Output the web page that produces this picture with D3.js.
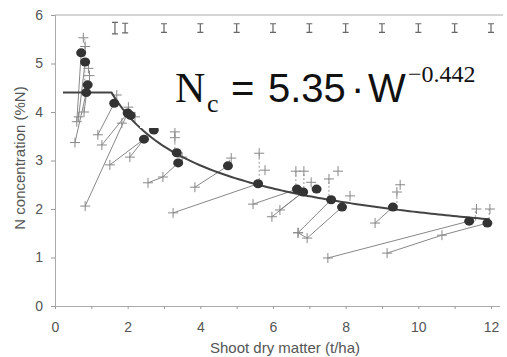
<!DOCTYPE html>
<html>
<head>
<meta charset="utf-8">
<script src="https://cdn.jsdelivr.net/npm/d3@7"></script>
<style>
  body { margin: 0; background: #fff; }
  svg { display: block; }
</style>
</head>
<body>
<div id="chart"></div>
<script>
// critical points (filled dots)
const dots = [[0.72,5.22],[0.83,5.03],[0.9,4.56],[0.86,4.4],[1.63,4.18],[2.0,3.98],[2.08,3.93],
  [2.72,3.63],[2.45,3.44],[3.35,3.16],[3.39,2.95],[4.76,2.89],[5.59,2.52],[6.66,2.41],[6.83,2.35],
  [7.2,2.41],[7.6,2.19],[7.9,2.04],[9.3,2.04],[11.4,1.75],[11.9,1.71]];

// N-limited treatments, each path ends at its critical point
const limitedPaths = [
  [[0.55,3.37],[0.86,4.4]],
  [[0.6,3.8],[0.72,5.22]],
  [[0.65,3.9],[0.83,5.03]],
  [[0.8,4.0],[0.9,4.56]],
  [[0.83,2.06],[2.0,3.98]],
  [[1.18,3.53],[1.63,4.18]],
  [[1.29,3.32],[2.0,3.98]],
  [[1.51,2.91],[2.45,3.44]],
  [[2.06,3.07],[2.45,3.44]],
  [[2.56,2.54],[2.97,2.66],[3.39,2.95]],
  [[3.25,1.92],[5.59,2.52]],
  [[3.85,2.45],[4.76,2.89]],
  [[5.45,2.1],[6.66,2.41]],
  [[5.97,1.84],[6.83,2.35]],
  [[6.19,1.98],[6.83,2.35]],
  [[6.69,1.51],[7.6,2.19]],
  [[6.94,1.40],[7.9,2.04]],
  [[6.69,1.51],[6.94,1.40]],
  [[8.81,1.71],[9.3,2.04]],
  [[7.51,0.99],[11.4,1.75]],
  [[9.14,1.09],[10.65,1.46],[11.9,1.71]]
];

// non-limiting treatments (crosses above the dots)
const upperPts = [[0.78,5.53],[0.83,5.35],[0.92,4.9],[0.95,4.75],[1.7,4.35],[2.02,4.1],[2.2,3.9],
  [1.84,3.77],[3.3,3.59],[3.3,3.47],[3.5,3.07],[4.85,3.05],[5.62,3.15],[5.78,2.8],[6.63,2.78],
  [6.85,2.78],[7.05,2.55],[7.54,2.62],[7.79,2.78],[8.12,2.27],[9.41,2.35],[9.5,2.5],[11.6,2.0],[11.97,2.0]];

// dashed verticals: x, low y, high y
const dashLines = [[0.82,4.4,5.5],[2.02,3.98,4.1],[3.3,3.16,3.59],[4.8,2.89,3.05],[5.62,2.52,3.15],
  [6.63,2.41,2.78],[6.85,2.35,2.78],[7.54,2.19,2.62],[9.41,2.04,2.35],[11.57,1.75,2.0],[11.95,1.71,2.0]];

// error bars at top
const errX = [1.65,1.93,3,4,5,6,7,8,9,10,11,12];
const errHalf = [0.12,0.1,0.09,0.09,0.09,0.09,0.09,0.09,0.09,0.09,0.09,0.09];
const errY = 5.73;

const xTicks = [0,1,2,3,4,5,6,7,8,9,10,11,12];
const yTicks = [0,1,2,3,4,5,6];

// critical N dilution curve
const curveA = 5.35, curveB = -0.442, flatN = 4.4, flatStart = 0.22;

const width = 507, height = 357;
const margin = {left: 55, top: 15, right: 16, bottom: 51};

const svg = d3.select("#chart").append("svg")
  .attr("width", width).attr("height", height)
  .style("font-family", "'Liberation Sans', Arial, sans-serif");

const x = d3.scaleLinear().domain([0, 12]).range([margin.left, 491]);
const y = d3.scaleLinear().domain([0, 6]).range([height - margin.bottom, margin.top]);

// frame top line
svg.append("line")
  .attr("x1", margin.left).attr("x2", 503)
  .attr("y1", y(6)).attr("y2", y(6))
  .attr("stroke", "#aaa").attr("stroke-width", 1);

// axes
const xAxis = svg.append("g")
  .attr("transform", `translate(0,${y(0)})`)
  .call(d3.axisBottom(x).tickValues(xTicks).tickSize(3).tickPadding(13)
    .tickFormat(d => d % 2 === 0 ? d : ""));
xAxis.select(".domain").attr("d", `M${margin.left},0.5H500`);

const yAxis = svg.append("g")
  .attr("transform", `translate(${margin.left},0)`)
  .call(d3.axisLeft(y).tickValues(yTicks).tickSize(4).tickPadding(8).tickFormat(d3.format("d")));

svg.selectAll(".domain").attr("stroke", "#aaa");
svg.selectAll(".tick line").attr("stroke", "#999");
svg.selectAll(".tick text").attr("fill", "#555").style("font-size", "14px");

// axis titles
svg.append("text")
  .attr("x", 285).attr("y", 353)
  .attr("text-anchor", "middle")
  .attr("fill", "#555").style("font-size", "15px")
  .text("Shoot dry matter (t/ha)");

svg.append("text")
  .attr("transform", `translate(25,158) rotate(-90)`)
  .attr("text-anchor", "middle")
  .attr("fill", "#555").style("font-size", "15px")
  .text("N concentration (%N)");

const line = d3.line().x(d => x(d[0])).y(d => y(d[1]));

// limited paths
svg.append("g").selectAll("path")
  .data(limitedPaths).join("path")
  .attr("d", line)
  .attr("fill", "none").attr("stroke", "#888").attr("stroke-width", 1);

// dashed verticals
svg.append("g").selectAll("line")
  .data(dashLines).join("line")
  .attr("x1", d => x(d[0])).attr("x2", d => x(d[0]))
  .attr("y1", d => y(d[1])).attr("y2", d => y(d[2]))
  .attr("stroke", "#999").attr("stroke-width", 1).attr("stroke-dasharray", "2,2");

// crosses
const crossPts = limitedPaths.flatMap(p => p.slice(0, -1)).concat(upperPts);
const arm = 5;
svg.append("g").selectAll("path")
  .data(crossPts).join("path")
  .attr("d", d => `M${x(d[0]) - arm},${y(d[1])}H${x(d[0]) + arm}M${x(d[0])},${y(d[1]) - arm}V${y(d[1]) + arm}`)
  .attr("fill", "none").attr("stroke", "#888").attr("stroke-width", 1);

// curve
const wBreak = Math.pow(flatN / curveA, 1 / curveB);
const curvePts = [[flatStart, flatN]].concat(
  d3.range(wBreak, 12.001, 0.1).map(w => [w, curveA * Math.pow(w, curveB)]));
svg.append("path")
  .attr("d", line(curvePts))
  .attr("fill", "none").attr("stroke", "#444").attr("stroke-width", 2);

// dots
svg.append("g").selectAll("ellipse")
  .data(dots).join("ellipse")
  .attr("cx", d => x(d[0])).attr("cy", d => y(d[1]))
  .attr("rx", 5).attr("ry", 4.5)
  .attr("fill", "#333");

// white box behind the equation
svg.append("rect")
  .attr("x", 140).attr("y", 40).attr("width", 360).attr("height", 88)
  .attr("fill", "#fff");

// equation
const serif = "'Liberation Serif', 'Times New Roman', serif";
const eq = svg.append("g").attr("fill", "#111");
eq.append("text").attr("x", 175).attr("y", 102)
  .style("font-family", serif).style("font-size", "42px").text("N");
eq.append("text").attr("x", 207).attr("y", 112)
  .style("font-family", serif).style("font-size", "26px").text("c");
eq.append("text").attr("x", 231).attr("y", 102)
  .style("font-size", "40px").text("=");
eq.append("text").attr("x", 268).attr("y", 102)
  .style("font-size", "40px").text("5.35");
eq.append("text").attr("x", 351).attr("y", 102)
  .style("font-size", "40px").text("·");
eq.append("text").attr("x", 368).attr("y", 102)
  .style("font-size", "40px").text("W");
eq.append("text").attr("x", 408).attr("y", 82)
  .style("font-family", serif).style("font-size", "24px").text("−0.442");

// error bars
const cap = 3;
svg.append("g").selectAll("path")
  .data(errX).join("path")
  .attr("d", (d, i) => {
    const cx = x(d), y1 = y(errY + errHalf[i]), y2 = y(errY - errHalf[i]);
    return `M${cx - cap},${y1}H${cx + cap}M${cx},${y1}V${y2}M${cx - cap},${y2}H${cx + cap}`;
  })
  .attr("fill", "none").attr("stroke", "#666").attr("stroke-width", 1.2);
</script>
</body>
</html>
